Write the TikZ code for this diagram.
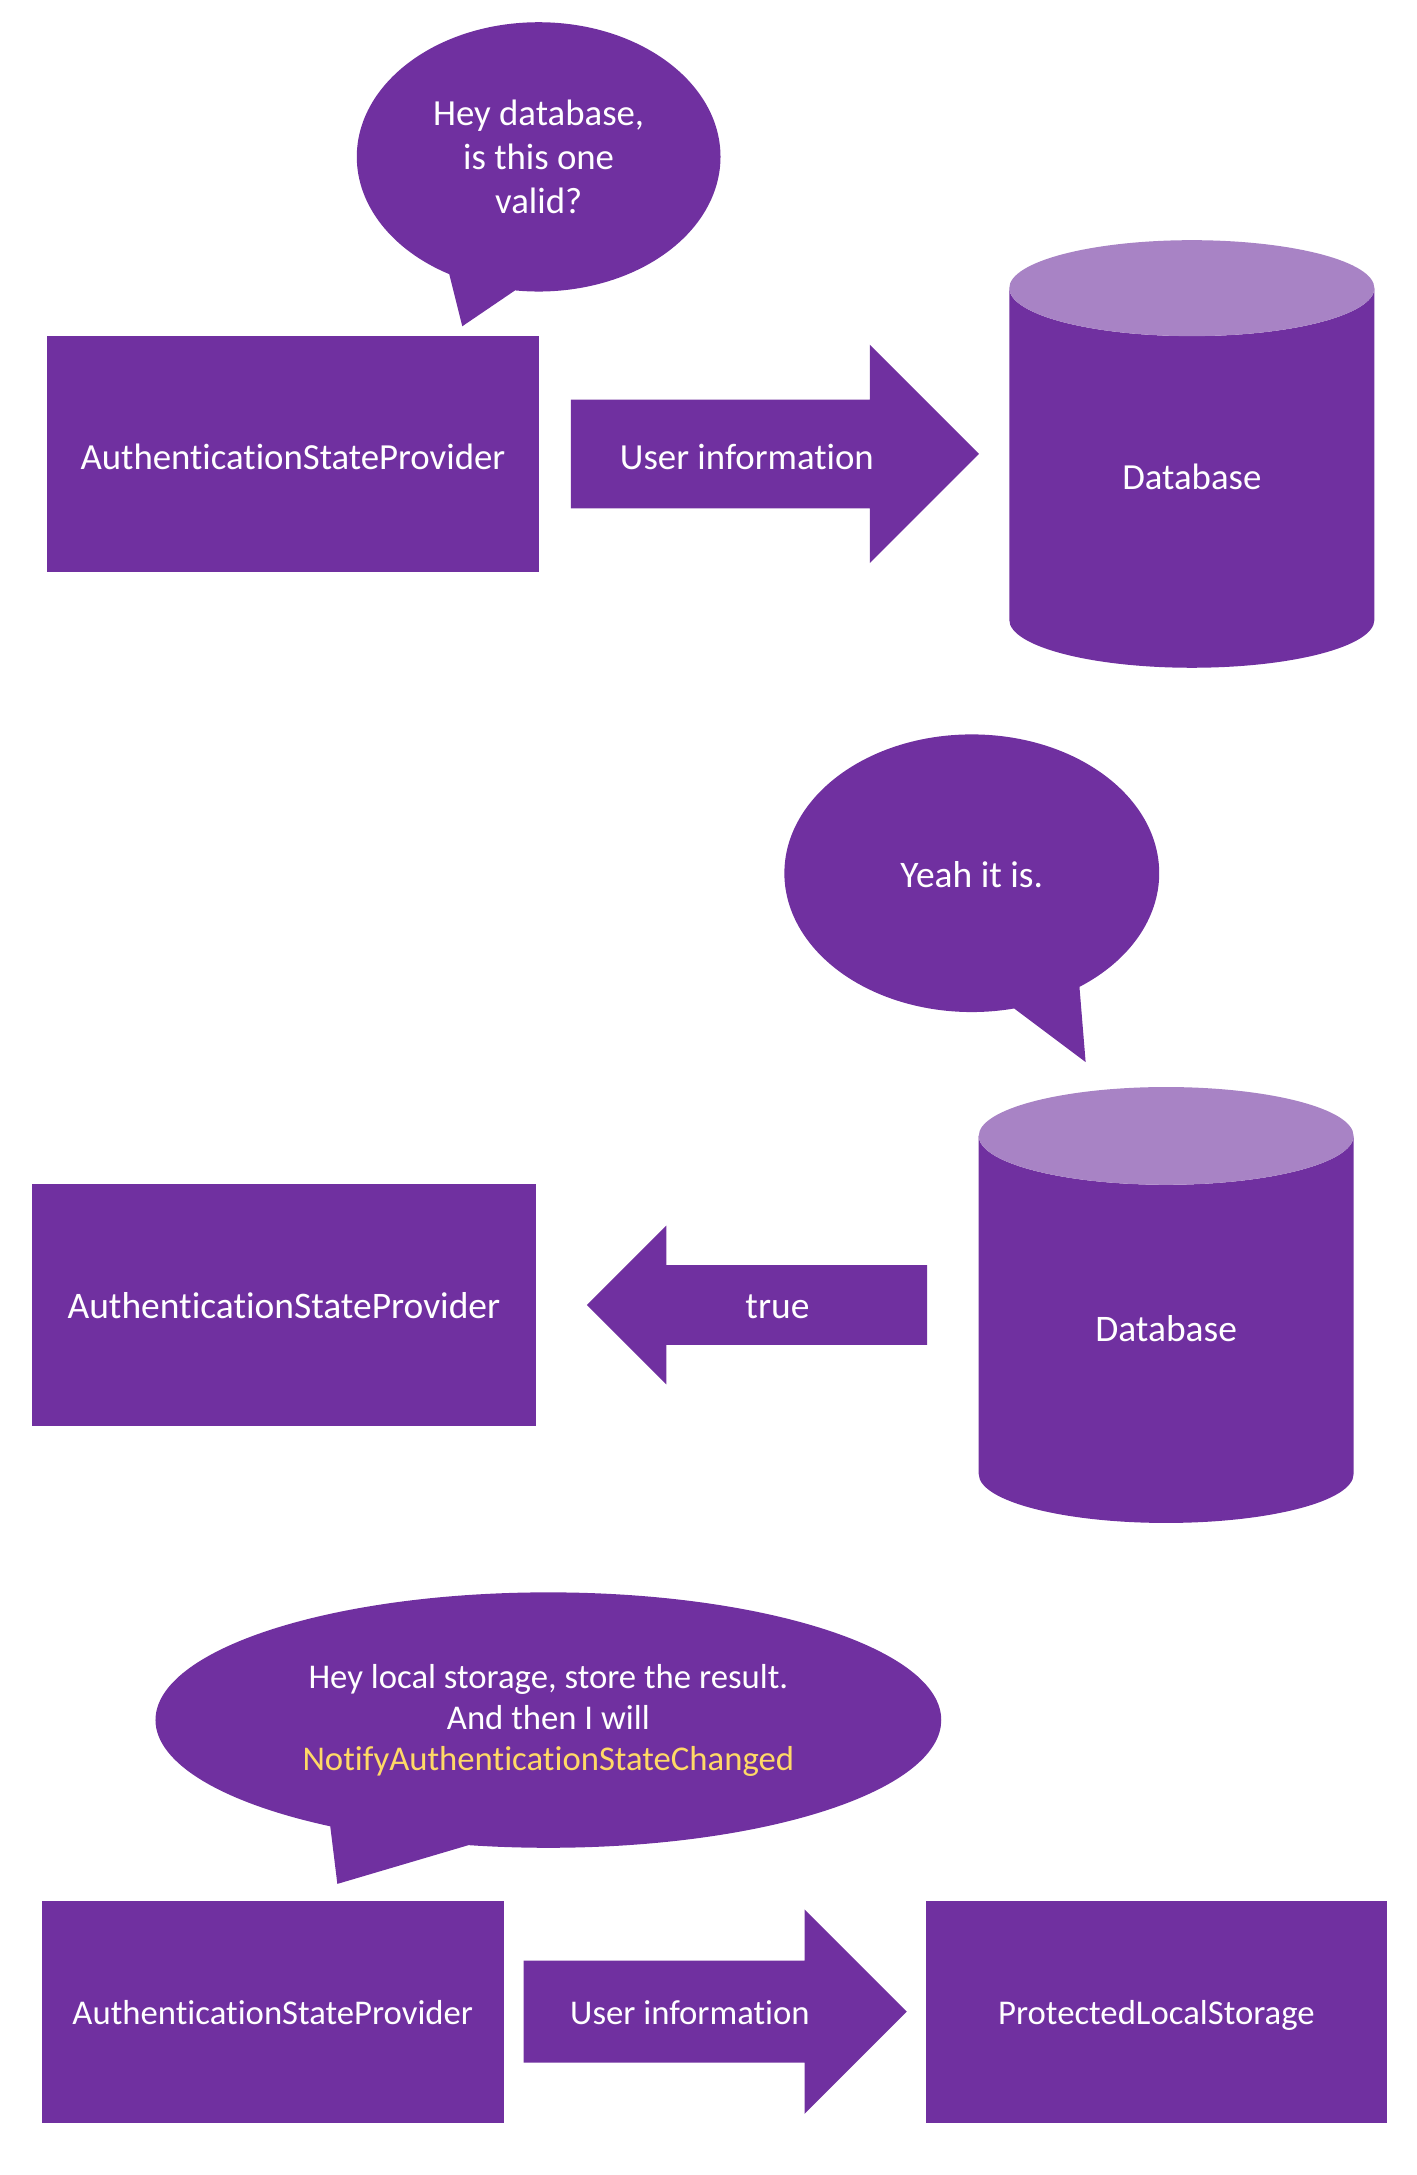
\documentclass[tikz,border=0pt]{standalone}
\usepackage{fontspec}
\setmainfont{Carlito}[Ligatures={NoCommon,NoContextual}]
\usetikzlibrary{shapes.geometric,shapes.arrows,shapes.callouts}
\definecolor{boxpurple}{HTML}{7030A0}
\definecolor{toppurple}{HTML}{A883C5}
\definecolor{notegold}{HTML}{FFD966}
\begin{document}
\begin{tikzpicture}[x=1pt,y=-1pt,
  every node/.style={text=white,font=\fontsize{26.5}{31.5}\selectfont,inner sep=0pt},
  line/.style={text height=22pt,text depth=0pt},
  mid/.style={font=\fontsize{27}{32}\selectfont,text height=20pt},
  low/.style={font=\fontsize{25}{29.5}\selectfont,text height=18pt},
  block/.style={rectangle,fill=boxpurple,line},
  flow/.style={single arrow,fill=boxpurple,single arrow tip angle=90,inner xsep=0pt,anchor=tail},
  db/.style={cylinder,shape border rotate=90,aspect=0.69,cylinder uses custom fill,
    cylinder body fill=boxpurple,cylinder end fill=toppurple,anchor=shape center,
    text height=17pt,text depth=0pt},
  bubble/.style={ellipse callout,fill=boxpurple,align=center,callout pointer arc=22}]
  \useasboundingbox (0,0) rectangle (1020,1566.7);

  % validating
  \node[block,minimum width=354pt,minimum height=170pt] (asp1) at (211,327) {AuthenticationStateProvider};
  \node[flow,minimum height=294pt,minimum width=157pt,inner ysep=39pt,single arrow head extend=39.5pt] (info1) at (411,327) {};
  \node[line] (info1label) at (538,327) {User information};
  \node[db,minimum width=263pt,minimum height=308pt] (db1) at (858.5,327) {Database};
  \node[bubble,minimum width=262pt,minimum height=194pt,callout absolute pointer={(333,235)}] (ask) at (388,113) {Hey database,\\is this one\\valid?};

  % answer
  \node[db,font=\fontsize{27}{32}\selectfont,minimum width=270pt,minimum height=314pt] (db2) at (840,940) {Database};
  \node[bubble,line,mid,minimum width=270pt,minimum height=200pt,callout absolute pointer={(782,765)}] (reply) at (700,629) {Yeah it is.};
  \node[block,mid,minimum width=363pt,minimum height=174pt] (asp2) at (204.5,940) {AuthenticationStateProvider};
  \node[flow,shape border rotate=180,minimum height=245pt,minimum width=114pt,inner ysep=28.5pt,single arrow head extend=28.5pt] (valid) at (668,940) {};
  \node[line,mid] (validlabel) at (560,940) {true};

  % storing
  \node[block,low,minimum width=333pt,minimum height=160pt] (asp3) at (196.5,1449) {AuthenticationStateProvider};
  \node[flow,minimum height=276pt,minimum width=147pt,inner ysep=36.5pt,single arrow head extend=37pt] (info3) at (377,1449) {};
  \node[line,low] (info3label) at (497,1449) {User information};
  \node[block,low,minimum width=332pt,minimum height=160pt] (store) at (833,1449) {ProtectedLocalStorage};
  \node[bubble,font=\fontsize{25}{29.5}\selectfont,minimum width=566pt,minimum height=184pt,callout absolute pointer={(243,1357)}] (notify) at (395,1239)
    {Hey local storage, store the result.\\And then I will\\\textcolor{notegold}{NotifyAuthenticationStateChanged}};
\end{tikzpicture}
\end{document}
